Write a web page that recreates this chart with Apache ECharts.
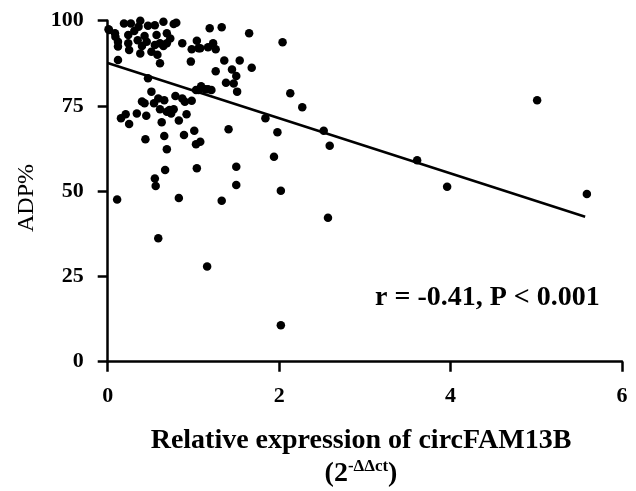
<!DOCTYPE html>
<html>
<head>
<meta charset="utf-8">
<script src="https://cdn.jsdelivr.net/npm/echarts@6/dist/echarts.min.js"></script>
<style>
  html, body { margin: 0; padding: 0; background: #fff; }
  #chart { width: 636px; height: 491px; }
</style>
</head>
<body>
<div id="chart"></div>
<script>
// relative expression of circFAM13B (x) and ADP% (y)
const exprX = [
  0.01, 0.015, 0.085, 0.09, 0.12, 0.12, 0.12, 0.19, 0.27, 0.38, 0.36, 0.55, 0.65, 0.77, 0.80,
  0.24, 0.24, 0.25, 0.35, 0.43, 0.455, 0.40, 0.38, 0.57, 0.61, 0.69, 0.69, 0.73, 0.55, 0.51,
  0.65, 0.87, 0.98, 1.04, 1.08, 1.17, 1.23, 1.06, 1.26, 0.47, 0.61, 0.97, 0.31, 0.47, 0.58,
  1.19, 1.33, 1.65, 2.04, 1.36, 1.54, 1.26, 1.45, 1.68, 1.50, 1.38, 1.47, 1.51,
  1.09, 1.03, 1.17, 1.06, 1.14, 1.21, 2.13, 2.27, 1.84,
  0.51, 0.59, 0.40, 0.43, 0.54, 0.66, 0.79, 0.87, 0.98, 0.90,
  0.155, 0.21, 0.25, 0.34, 0.45, 0.63, 0.61, 0.69, 0.74, 0.77, 0.83, 0.92, 0.72,
  0.44, 0.66, 0.89, 1.01, 1.03, 1.08, 0.69, 1.41, 1.98,
  0.67, 1.04, 0.56, 0.55, 0.83, 0.11, 1.50, 1.94, 1.50, 1.33, 2.02,
  0.59, 1.16, 2.02, 2.52, 2.59, 2.57, 3.61, 3.96, 5.01, 5.59
];
const adpY = [
  97.5, 97.3, 96.3, 95.3, 93.8, 92.4, 88.5, 99.2, 99.2, 100, 98.2, 98.7, 99.7, 99.0, 99.4,
  95.8, 93.4, 91.4, 94.3, 95.5, 93.8, 92.6, 90.4, 95.8, 93.4, 96.3, 93.4, 94.8, 92.9, 90.9,
  92.6, 93.4, 91.6, 94.1, 91.9, 92.2, 93.4, 91.9, 91.6, 83.1, 87.5, 88.0, 97.0, 98.5, 90.0,
  97.8, 98.1, 96.3, 93.7, 88.3, 88.3, 85.2, 85.7, 86.2, 83.8, 81.8, 81.6, 79.2,
  80.8, 79.7, 79.9, 79.7, 79.9, 79.7, 78.7, 74.6, 71.4,
  79.2, 77.2, 76.3, 75.8, 75.8, 76.7, 77.9, 77.2, 76.5, 76.2,
  71.4, 72.6, 69.7, 72.8, 72.1, 70.2, 74.0, 73.3, 72.8, 74.0, 70.7, 72.6, 73.8,
  65.2, 66.2, 66.5, 67.7, 63.8, 64.5, 62.3, 68.2, 67.3,
  56.2, 56.7, 51.5, 53.7, 48.0, 47.6, 57.2, 60.1, 51.8, 47.2, 50.1,
  36.2, 27.9, 10.7, 67.7, 63.3, 42.2, 59.1, 51.3, 76.7, 49.2
];
// fitted regression line end points
const fitX = [0, 5.57];
const fitY = [87.6, 42.5];

const xTicks = [0, 2, 4, 6];
const yTicks = [0, 25, 50, 75, 100];
const statText = "r = -0.41, P < 0.001";

const serif = "'Liberation Serif', 'DejaVu Serif', serif";
const chart = echarts.init(document.getElementById("chart"), null, { renderer: "canvas" });

const option = {
  animation: false,
  backgroundColor: "#fff",
  grid: { left: 107.7, right: 14, top: 20.7, bottom: 129.3, containLabel: false },
  xAxis: {
    type: "value",
    min: xTicks[0],
    max: xTicks[xTicks.length - 1],
    interval: 2,
    axisLine: { show: true, onZero: false, lineStyle: { color: "#000", width: 2.5 } },
    axisTick: { show: true, length: 10, lineStyle: { color: "#000", width: 2.5 } },
    axisLabel: { margin: 24, color: "#000", fontFamily: serif, fontWeight: "bold", fontSize: 22 },
    splitLine: { show: false }
  },
  yAxis: {
    type: "value",
    min: yTicks[0],
    max: yTicks[yTicks.length - 1],
    interval: 25,
    axisLine: { show: true, onZero: false, lineStyle: { color: "#000", width: 2.5 } },
    axisTick: { show: true, length: 10, lineStyle: { color: "#000", width: 2.5 } },
    axisLabel: { margin: 24, color: "#000", fontFamily: serif, fontWeight: "bold", fontSize: 22 },
    splitLine: { show: false }
  },
  series: [
    {
      type: "scatter",
      symbol: "circle",
      symbolSize: 8.5,
      itemStyle: { color: "#000", opacity: 1 },
      data: exprX.map((x, i) => [x, adpY[i]]),
      z: 3
    },
    {
      type: "line",
      data: fitX.map((x, i) => [x, fitY[i]]),
      symbol: "none",
      lineStyle: { color: "#000", width: 2.5 },
      z: 2
    }
  ],
  graphic: [
    {
      type: "text",
      x: 375, y: 298,
      style: { text: statText, fill: "#000", font: "bold 28px " + serif, textVerticalAlign: "middle" }
    },
    {
      type: "text",
      x: 361, y: 441,
      style: {
        text: "Relative expression of circFAM13B",
        fill: "#000", font: "bold 28px " + serif,
        textAlign: "center", textVerticalAlign: "middle"
      }
    },
    {
      type: "text",
      x: 361, y: 474,
      style: {
        text: "{a|(2}{s|-ΔΔct}{a|)}",
        textAlign: "center", textVerticalAlign: "middle",
        rich: {
          a: { fill: "#000", font: "bold 28px " + serif },
          s: { fill: "#000", font: "bold 17px " + serif, padding: [0, 0, 14, 0] }
        }
      }
    },
    {
      type: "text",
      x: 27, y: 198,
      rotation: Math.PI / 2,
      style: {
        text: "ADP%", fill: "#000", font: "24px " + serif,
        textAlign: "center", textVerticalAlign: "middle"
      }
    }
  ]
};
chart.setOption(option);
</script>
</body>
</html>
